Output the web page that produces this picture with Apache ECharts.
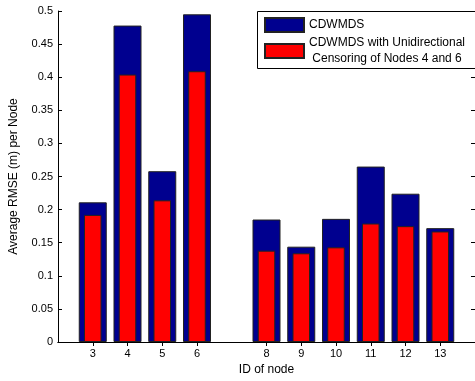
<!DOCTYPE html>
<html>
<head>
<meta charset="utf-8">
<script src="https://cdn.jsdelivr.net/npm/echarts@6/dist/echarts.min.js"></script>
<style>html,body{margin:0;padding:0;background:#fff}#c{width:475px;height:381px}</style>
</head>
<body>
<div id="c"></div>
<script>
const nodeIds = [3, 4, 5, 6, 8, 9, 10, 11, 12, 13];
const cdwmds = [0.211, 0.478, 0.258, 0.495, 0.185, 0.144, 0.186, 0.265, 0.224, 0.172];
const censored = [0.192, 0.404, 0.214, 0.409, 0.138, 0.134, 0.143, 0.179, 0.175, 0.167];
const seriesNames = ['CDWMDS', 'CDWMDS with Unidirectional\n Censoring of Nodes 4 and 6'];
const xLabel = 'ID of node';
const yLabel = 'Average RMSE (m) per Node';

const FONT = 'Liberation Sans, Arial, sans-serif';
const chart = echarts.init(document.getElementById('c'), null, {renderer: 'canvas'});
const axisLineStyle = {show: true, lineStyle: {color: '#000', width: 1}};
const xCommon = {
  type: 'value', min: 2, max: 14, splitLine: {show: false},
  axisLine: axisLineStyle
};
chart.setOption({
  animation: false,
  backgroundColor: '#fff',
  grid: {left: 57, top: 11, width: 420, height: 332, containLabel: false},
  graphic: [{
    type: 'rect', z: 3, silent: true,
    shape: {x: 257.5, y: 11.5, width: 240, height: 57},
    style: {fill: '#fff', stroke: '#000', lineWidth: 1}
  }],
  legend: {
    orient: 'vertical', left: 257, top: 11,
    padding: [6, 4, 2, 7], itemGap: 2,
    itemWidth: 39, itemHeight: 14, icon: 'rect',
    borderWidth: 0,
    textStyle: {fontFamily: FONT, fontSize: 12, color: '#000', lineHeight: 16},
    data: seriesNames
  },
  xAxis: [
    Object.assign({}, xCommon, {
      position: 'bottom',
      name: xLabel, nameLocation: 'middle', nameGap: 22,
      nameTextStyle: {fontFamily: FONT, fontSize: 12, color: '#000'},
      axisTick: {show: true, inside: true, length: 4, customValues: nodeIds, lineStyle: {color: '#000'}},
      axisLabel: {show: true, customValues: nodeIds, margin: 6, fontFamily: FONT, fontSize: 11, color: '#000'}
    }),
    Object.assign({}, xCommon, {
      position: 'top',
      axisTick: {show: true, inside: true, length: 4, customValues: nodeIds, lineStyle: {color: '#000'}},
      axisLabel: {show: false}
    })
  ],
  yAxis: [
    {
      type: 'value', min: 0, max: 0.5, interval: 0.05, position: 'left',
      name: yLabel, nameLocation: 'middle', nameGap: 38,
      nameTextStyle: {fontFamily: FONT, fontSize: 12, color: '#000'},
      splitLine: {show: false}, axisLine: axisLineStyle,
      axisTick: {show: true, inside: true, length: 4, lineStyle: {color: '#000'}},
      axisLabel: {margin: 5, fontFamily: FONT, fontSize: 11, color: '#000',
        formatter: v => String(+v.toFixed(2))}
    },
    {
      type: 'value', min: 0, max: 0.5, interval: 0.05, position: 'right',
      splitLine: {show: false}, axisLine: axisLineStyle,
      axisTick: {show: true, inside: true, length: 4, lineStyle: {color: '#000'}},
      axisLabel: {show: false}
    }
  ],
  series: [
    {
      name: seriesNames[0], type: 'bar', xAxisIndex: 0, yAxisIndex: 0,
      barWidth: 28,
      itemStyle: {color: '#00008F', borderColor: '#222', borderWidth: 1},
      data: nodeIds.map((id, i) => [id, cdwmds[i]])
    },
    {
      name: seriesNames[1], type: 'bar', xAxisIndex: 1, yAxisIndex: 0,
      barWidth: 17.5,
      itemStyle: {color: '#FF0000', borderColor: '#222', borderWidth: 1},
      data: nodeIds.map((id, i) => [id, censored[i]])
    }
  ]
});
</script>
</body>
</html>
